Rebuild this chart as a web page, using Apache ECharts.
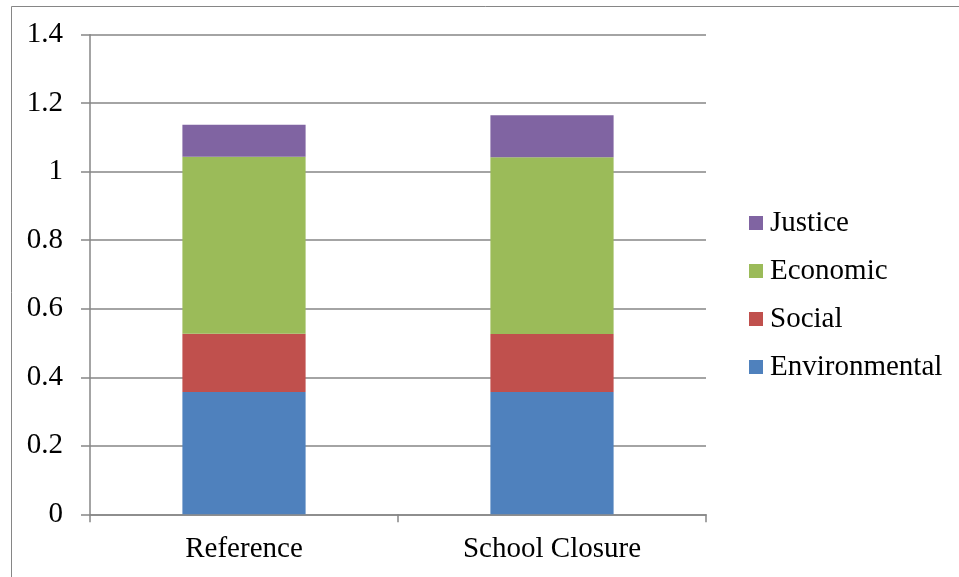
<!DOCTYPE html>
<html>
<head>
<meta charset="utf-8">
<script src="https://cdn.jsdelivr.net/npm/echarts@6/dist/echarts.min.js"></script>
<style>
  html, body { margin: 0; padding: 0; background: #ffffff; }
  #chart { width: 959px; height: 577px; }
</style>
</head>
<body>
<div id="chart"></div>
<script>
// Scenario categories and stacked sustainability components
const categories = ['Reference', 'School Closure'];
const environmental = [0.357, 0.357];
const social = [0.170, 0.169];
const economic = [0.517, 0.516];
const justice = [0.093, 0.123];
const legendOrder = ['Justice', 'Economic', 'Social', 'Environmental'];

const FONT = '"Liberation Serif", "Times New Roman", serif';
const FONT_SIZE = 29;
const GRID_GRAY = '#868686';

const chart = echarts.init(document.getElementById('chart'), null, { renderer: 'canvas' });

function stackSeries(name, data, color) {
  return {
    name: name,
    type: 'bar',
    stack: 'total',
    data: data,
    barWidth: '40%',
    itemStyle: { color: color },
    emphasis: { disabled: true }
  };
}

chart.setOption({
  animation: false,
  backgroundColor: '#ffffff',
  textStyle: { fontFamily: FONT },
  graphic: [{
    type: 'rect',
    shape: { x: 11.5, y: 6.5, width: 1200, height: 1200 },
    style: { fill: 'none', stroke: GRID_GRAY, lineWidth: 1 },
    silent: true
  }],
  grid: { left: 90, right: 253, top: 34.7, bottom: 62.7 },
  legend: {
    orient: 'vertical',
    left: 744,
    top: 203,
    data: legendOrder,
    itemWidth: 14,
    itemHeight: 14,
    itemGap: 18,
    icon: 'rect',
    selectedMode: false,
    textStyle: { fontFamily: FONT, fontSize: FONT_SIZE, color: '#000', lineHeight: 30, padding: [0, 0, 0, 2] }
  },
  xAxis: {
    type: 'category',
    data: categories,
    axisLine: { lineStyle: { color: GRID_GRAY, width: 1.5 } },
    axisTick: { show: true, length: 8, lineStyle: { color: GRID_GRAY, width: 1.5 } },
    axisLabel: { color: '#000', fontFamily: FONT, fontSize: FONT_SIZE, margin: 21 }
  },
  yAxis: {
    type: 'value',
    min: 0,
    max: 1.4,
    interval: 0.2,
    axisLine: { show: true, lineStyle: { color: GRID_GRAY, width: 1.5 } },
    axisTick: { show: true, inside: false, length: 9, lineStyle: { color: GRID_GRAY, width: 1.5 } },
    splitLine: { show: true, lineStyle: { color: GRID_GRAY, width: 1.5 } },
    axisLabel: { color: '#000', fontFamily: FONT, fontSize: FONT_SIZE, margin: 27 }
  },
  series: [
    stackSeries('Environmental', environmental, '#4F81BD'),
    stackSeries('Social', social, '#C0504D'),
    stackSeries('Economic', economic, '#9BBB59'),
    stackSeries('Justice', justice, '#8064A2')
  ]
});
</script>
</body>
</html>
